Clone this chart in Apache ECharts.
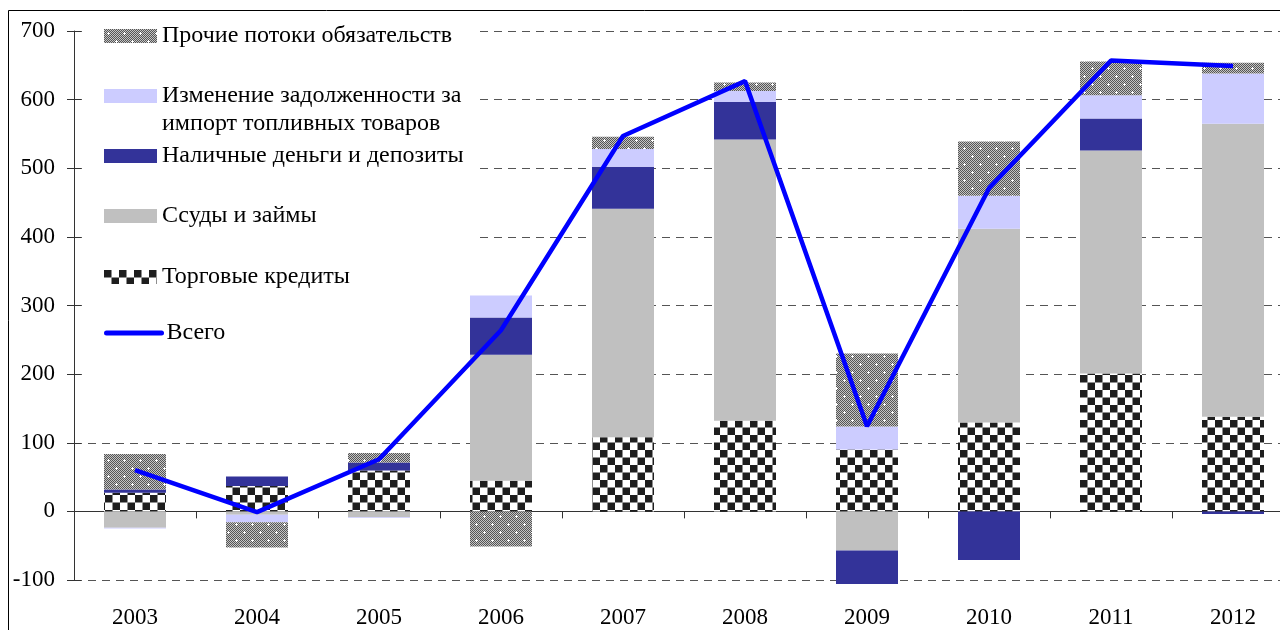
<!DOCTYPE html>
<html>
<head>
<meta charset="utf-8">
<script src="https://cdn.jsdelivr.net/npm/echarts@6/dist/echarts.min.js"></script>
<style>
  html, body { margin: 0; padding: 0; background: #fff; }
  #chart { width: 1280px; height: 630px; }
</style>
</head>
<body>
<div id="chart"></div>
<script>
// данные
const years = ['2003', '2004', '2005', '2006', '2007', '2008', '2009', '2010', '2011', '2012']
const tradeCredits = [27, 37, 59.5, 44.5, 108, 132, 90, 129.5, 201, 138]
const loans = [-24, -5, -8.5, 183.7, 333, 410, -57, 282.5, 324.7, 426.7]
const cashDeposits = [5, 14, 11.7, 54.4, 61.2, 54.4, -48.7, -70.7, 46.7, -4]
const fuelImports = [-1, -11, -1, 32.1, 25.8, 16.1, 33.5, 48.1, 34, 73.5]
const otherFlows = [51.5, -36.5, 13.7, -51.3, 17.8, 12.6, 106.5, 78.8, 49.1, 15.5]
const total = [60, -1, 76, 264, 547, 627, 124, 471, 657, 649]
const yTicks = { min: -100, max: 700, step: 100 }

const names = {
  other: 'Прочие потоки обязательств',
  fuel: 'Изменение задолженности за импорт топливных товаров',
  cash: 'Наличные деньги и депозиты',
  loans: 'Ссуды и займы',
  trade: 'Торговые кредиты',
  total: 'Всего'
}

const FONT = 'Liberation Serif'

// шахматка для торговых кредитов
function checkerPattern() {
  const c = document.createElement('canvas')
  c.width = 30
  c.height = 30
  const ctx = c.getContext('2d')
  ctx.fillStyle = '#fff'
  ctx.fillRect(0, 0, 30, 30)
  ctx.fillStyle = '#1e1e1e'
  for (let i = 0; i < 4; i++) {
    for (let j = 0; j < 4; j++) {
      if ((i + j) % 2 === 0) ctx.fillRect(i * 7.5, j * 7.5, 7.5, 7.5)
    }
  }
  return { image: c, repeat: 'repeat' }
}

// серая мелкая сетка с белыми точками
function dotsPattern() {
  const c = document.createElement('canvas')
  c.width = 16
  c.height = 16
  const ctx = c.getContext('2d')
  for (let x = 0; x < 16; x++) {
    for (let y = 0; y < 16; y++) {
      ctx.fillStyle = (x + y) % 2 ? '#c4c4c4' : '#555'
      ctx.fillRect(x, y, 1, 1)
    }
  }
  ctx.fillStyle = '#fff'
  const plus = (x, y) => {
    ctx.fillRect(x - 1, y, 3, 1)
    ctx.fillRect(x, y - 1, 1, 3)
  }
  plus(4, 4)
  plus(12, 12)
  return { image: c, repeat: 'repeat' }
}

function legendAt(name, top, extra) {
  return Object.assign({
    data: [{ name: name, icon: 'rect' }],
    orient: 'vertical',
    left: 104,
    top: top,
    padding: 0,
    itemWidth: 53,
    itemHeight: 14,
    selectedMode: false,
    textStyle: {
      fontFamily: FONT,
      fontSize: 24,
      color: '#000',
      lineHeight: 28
    }
  }, extra || {})
}

const chart = echarts.init(document.getElementById('chart'))

const barBase = {
  type: 'bar',
  stack: 'total',
  barWidth: 62,
  clip: false,
  xAxisIndex: 0,
  yAxisIndex: 0
}

const option = {
  animation: false,
  backgroundColor: '#fff',
  textStyle: { fontFamily: FONT },
  grid: {
    left: 74,
    width: 1220,
    top: 31,
    bottom: 50,
    containLabel: false,
    outerBoundsMode: 'none'
  },
  legend: [
    legendAt(names.other, 22),
    legendAt(names.fuel, 54, {
      // пустая первая строка, чтобы значок стоял против первой строки
      formatter: () => '\nИзменение задолженности за\nимпорт топливных товаров'
    }),
    legendAt(names.cash, 142),
    legendAt(names.loans, 202),
    legendAt(names.trade, 263),
    legendAt(names.total, 319, {
      data: [{ name: names.total }],
      itemWidth: 55,
      itemStyle: { opacity: 0 },
      lineStyle: { width: 5, cap: 'round', color: '#0000ff' }
    })
  ],
  xAxis: [
    {
      type: 'category',
      data: years,
      position: 'bottom',
      axisLine: { onZero: true, lineStyle: { color: '#333', width: 1 } },
      axisTick: { show: true, length: 7, lineStyle: { color: '#333' } },
      axisLabel: { show: false },
      splitLine: { show: false }
    },
    {
      type: 'category',
      data: years,
      position: 'bottom',
      axisLine: { show: false, onZero: false },
      axisTick: { show: false },
      axisLabel: {
        show: true,
        margin: 26,
        fontFamily: FONT,
        fontSize: 23,
        color: '#000'
      },
      splitLine: { show: false }
    }
  ],
  yAxis: [
    {
      type: 'value',
      min: yTicks.min,
      max: yTicks.max,
      interval: yTicks.step,
      position: 'left',
      axisLine: { show: true, onZero: false, lineStyle: { color: '#333', width: 1 } },
      axisTick: { show: true, length: 7, lineStyle: { color: '#333' } },
      axisLabel: {
        margin: 19,
        fontFamily: FONT,
        fontSize: 23,
        color: '#000'
      },
      splitLine: {
        show: true,
        lineStyle: { color: '#555', type: [8, 6], width: 1 }
      }
    },
    {
      type: 'value',
      min: yTicks.min,
      max: yTicks.max,
      interval: yTicks.step,
      position: 'left',
      axisLine: { show: false, onZero: false },
      axisTick: { show: true, inside: true, length: 7, lineStyle: { color: '#333' } },
      axisLabel: { show: false },
      splitLine: { show: false }
    }
  ],
  graphic: [
    {
      // подложка легенды
      type: 'rect',
      shape: { x: 82, y: 14, width: 392, height: 380 },
      style: { fill: '#fff' },
      z: 1,
      silent: true
    },
    {
      type: 'rect',
      shape: { x: 8.5, y: 10.5, width: 1400, height: 700 },
      style: { fill: null, stroke: '#000', lineWidth: 1 },
      z: 10,
      silent: true
    }
  ],
  series: [
    Object.assign({}, barBase, {
      name: names.trade,
      data: tradeCredits,
      itemStyle: { color: checkerPattern() }
    }),
    Object.assign({}, barBase, {
      name: names.loans,
      data: loans,
      itemStyle: { color: '#c0c0c0' }
    }),
    Object.assign({}, barBase, {
      name: names.cash,
      data: cashDeposits,
      itemStyle: { color: '#333399' }
    }),
    Object.assign({}, barBase, {
      name: names.fuel,
      data: fuelImports,
      itemStyle: { color: '#ccccff' }
    }),
    Object.assign({}, barBase, {
      name: names.other,
      data: otherFlows,
      itemStyle: { color: dotsPattern() }
    }),
    {
      name: names.total,
      type: 'line',
      data: total,
      xAxisIndex: 0,
      yAxisIndex: 0,
      symbol: 'none',
      clip: false,
      z: 5,
      lineStyle: { color: '#0000ff', width: 4.5 },
      itemStyle: { color: '#0000ff' }
    }
  ]
}

chart.setOption(option)
</script>
</body>
</html>
